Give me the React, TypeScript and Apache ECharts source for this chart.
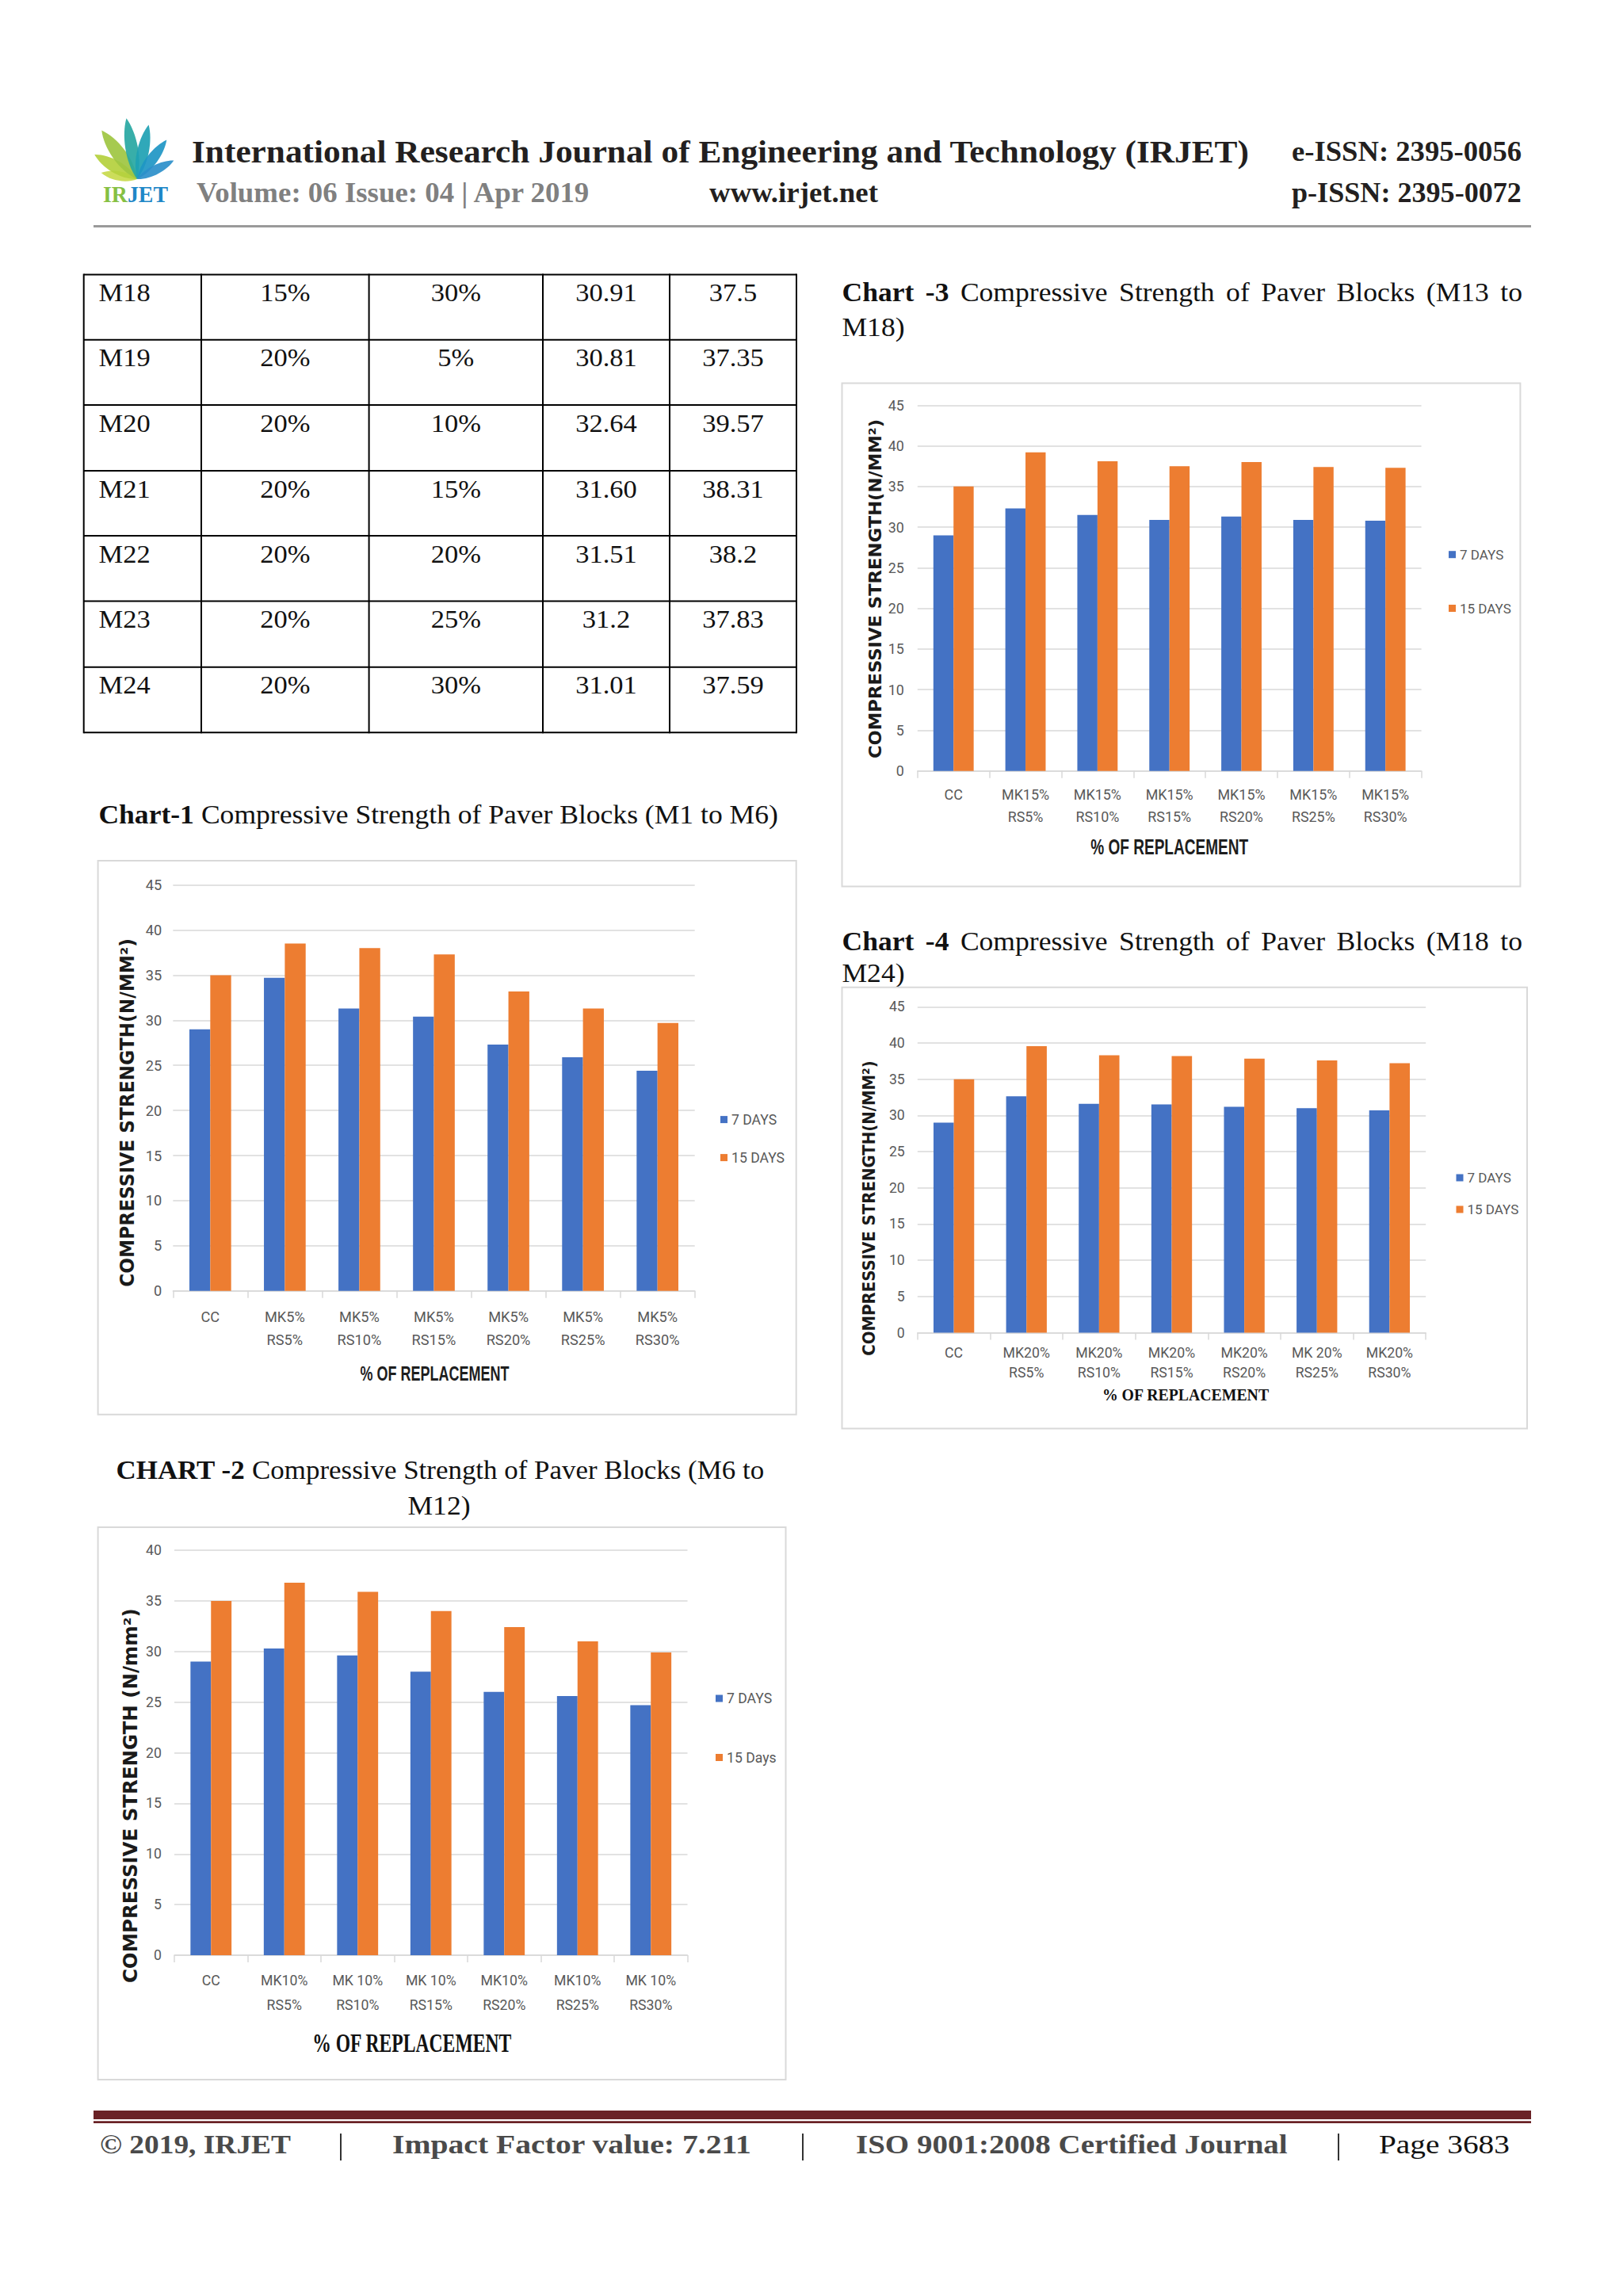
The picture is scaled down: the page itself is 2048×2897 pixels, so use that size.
import React, { useEffect, useRef } from "react";
import * as echarts from "echarts";

// ---------------- DATA ----------------
const chart1Categories = ["CC", "MK5%\nRS5%", "MK5%\nRS10%", "MK5%\nRS15%", "MK5%\nRS20%", "MK5%\nRS25%", "MK5%\nRS30%"];
const chart1Days7 = [29.0, 34.7, 31.3, 30.4, 27.3, 25.9, 24.4];
const chart1Days15 = [35.0, 38.5, 38.0, 37.3, 33.2, 31.3, 29.7];

const chart2Categories = ["CC", "MK10%\nRS5%", "MK 10%\nRS10%", "MK 10%\nRS15%", "MK10%\nRS20%", "MK10%\nRS25%", "MK 10%\nRS30%"];
const chart2Days7 = [29.0, 30.3, 29.6, 28.0, 26.0, 25.6, 24.7];
const chart2Days15 = [35.0, 36.8, 35.9, 34.0, 32.4, 31.0, 29.9];

const chart3Categories = ["CC", "MK15%\nRS5%", "MK15%\nRS10%", "MK15%\nRS15%", "MK15%\nRS20%", "MK15%\nRS25%", "MK15%\nRS30%"];
const chart3Days7 = [29.0, 32.3, 31.5, 30.9, 31.3, 30.9, 30.8];
const chart3Days15 = [35.0, 39.2, 38.1, 37.5, 38.0, 37.4, 37.3];

const chart4Categories = ["CC", "MK20%\nRS5%", "MK20%\nRS10%", "MK20%\nRS15%", "MK20%\nRS20%", "MK 20%\nRS25%", "MK20%\nRS30%"];
const chart4Days7 = [29.0, 32.64, 31.6, 31.51, 31.2, 31.01, 30.7];
const chart4Days15 = [35.0, 39.57, 38.31, 38.2, 37.83, 37.59, 37.2];

const yAxisMax = [45, 40, 45, 45];
const yAxisStep = 5;

const tableRows = [
  ["M18", "15%", "30%", "30.91", "37.5"],
  ["M19", "20%", "5%", "30.81", "37.35"],
  ["M20", "20%", "10%", "32.64", "39.57"],
  ["M21", "20%", "15%", "31.60", "38.31"],
  ["M22", "20%", "20%", "31.51", "38.2"],
  ["M23", "20%", "25%", "31.2", "37.83"],
  ["M24", "20%", "30%", "31.01", "37.59"],
];

// ---------------- STYLE / LAYOUT ----------------
const BLUE = "#4472C4";
const ORANGE = "#ED7D31";
const GRID = "#d9d9d9";
const LABEL = "#595959";
const SERIF = '"Liberation Serif", "Times New Roman", serif';
const SANS = '"Liberation Sans", Arial, sans-serif';
const GOTHIC = '"DejaVu Sans", sans-serif';

let _ctx: CanvasRenderingContext2D | null = null;
function measure(text: string, font: string): number {
  if (!_ctx) _ctx = document.createElement("canvas").getContext("2d");
  _ctx!.font = font;
  return _ctx!.measureText(text).width;
}
function hasFont(name: string): boolean {
  const s = "MK5% RS10% 7 DAYS abcdefg";
  return Math.abs(measure(s, "20px monospace") - measure(s, `20px "${name}", monospace`)) > 0.5;
}

echarts.graphic.registerShape(
  "leaf",
  echarts.graphic.extendPath("M0,0 C-30,-30 -25,-75 0,-100 C25,-75 30,-30 0,0 Z", {})
);

type Run = { text: string; bold?: boolean };

function textEl(text: string, o: any) {
  const weight = o.weight || "normal";
  const font = `${weight} ${o.size}px ${o.family}`;
  let sx = o.scale ?? 1;
  if (o.width) sx = o.width / measure(text, font);
  return {
    type: "text",
    x: o.x,
    y: o.y,
    scaleX: sx,
    rotation: o.rotation || 0,
    silent: true,
    style: {
      text,
      fontSize: o.size,
      fontFamily: o.family,
      fontWeight: weight,
      fill: o.color || "#000",
      textAlign: o.align || "left",
      textVerticalAlign: "middle",
    },
  };
}

function runsEl(runs: Run[], o: any) {
  const fonts = runs.map((r) => `${r.bold ? "bold" : "normal"} ${o.size}px ${o.family}`);
  const widths = runs.map((r, i) => measure(r.text, fonts[i]));
  const space = measure(" ", `normal ${o.size}px ${o.family}`);
  const natural = widths.reduce((a, b) => a + b, 0) + space * (runs.length - 1);
  let s = o.scale ?? 1;
  if (o.width && !o.justify) s = o.width / natural;
  let gap = space * s;
  if (o.justify) gap = (o.width - widths.reduce((a, b) => a + b, 0) * s) / (runs.length - 1);
  let left = o.align === "center" ? o.x - (natural * s) / 2 : o.x;
  const els: any[] = [];
  runs.forEach((r, i) => {
    els.push({
      type: "text",
      x: left,
      y: o.y,
      scaleX: s,
      silent: true,
      style: {
        text: r.text,
        fontSize: o.size,
        fontFamily: o.family,
        fontWeight: r.bold ? "bold" : "normal",
        fill: o.color || "#000",
        textAlign: "left",
        textVerticalAlign: "middle",
      },
    });
    left += widths[i] * s + gap;
  });
  return { els, scale: s };
}

function buildOption() {
  const narrow = hasFont("Liberation Sans Narrow");
  const labelFamily = narrow ? '"Liberation Sans Narrow"' : "Roboto";
  const boost = narrow ? 1 : 1.08;
  const fit = (sample: string, target: number) =>
    Math.round(((20 * target) / measure(sample, `20px ${labelFamily}`)) * boost * 10) / 10;

  const panels = [
    {
      cats: chart1Categories, d7: chart1Days7, d15: chart1Days15, max: yAxisMax[0],
      n7: "7 DAYS", n15: "15 DAYS",
      left: 218.3, right: 876.7, top: 1116.6, bottom: 1628.7,
      labelSize: fit("MK5%", 47), lineH: 29, xMargin: 18, yMargin: 14,
      legLeft: 909, legTop: 1402.6, legGap: 28, legSize: fit("7 DAYS", 52.8),
    },
    {
      cats: chart2Categories, d7: chart2Days7, d15: chart2Days15, max: yAxisMax[1],
      n7: "7 DAYS", n15: "15 Days",
      left: 220, right: 867.5, top: 1956, bottom: 2467,
      labelSize: fit("MK10%", 55), lineH: 31, xMargin: 16.5, yMargin: 16,
      legLeft: 903, legTop: 2133, legGap: 54.5, legSize: fit("7 DAYS", 52.8),
    },
    {
      cats: chart3Categories, d7: chart3Days7, d15: chart3Days15, max: yAxisMax[2],
      n7: "7 DAYS", n15: "15 DAYS",
      left: 1157.8, right: 1793.6, top: 511.3, bottom: 972.8,
      labelSize: fit("MK15%", 55.6), lineH: 27.5, xMargin: 16, yMargin: 17,
      legLeft: 1828, legTop: 689.7, legGap: 47.8, legSize: fit("7 DAYS", 51),
    },
    {
      cats: chart4Categories, d7: chart4Days7, d15: chart4Days15, max: yAxisMax[3],
      n7: "7 DAYS", n15: "15 DAYS",
      left: 1157.8, right: 1799.2, top: 1270.3, bottom: 1681.5,
      labelSize: fit("MK20%", 55), lineH: 25, xMargin: 13, yMargin: 16,
      legLeft: 1837.5, legTop: 1476, legGap: 20, legSize: fit("7 DAYS", 51),
    },
  ];

  const graphic: any[] = [];

  // ---- logo ----
  const leaves = [
    { a: -80, L: 46, w: 12, c: "#c8da4c" },
    { a: -60, L: 62, w: 16, c: "#b4d03d" },
    { a: -36, L: 76, w: 18, c: "#9ec641" },
    { a: -10, L: 78, w: 16, c: "#27a7a2" },
    { a: 12, L: 70, w: 15, c: "#1ea1b3" },
    { a: 37, L: 62, w: 14, c: "#1e96c4" },
    { a: 63, L: 52, w: 12, c: "#2b8fca" },
  ];
  leaves.forEach((lf) =>
    graphic.push({
      type: "leaf",
      x: 173,
      y: 226,
      rotation: (-lf.a * Math.PI) / 180,
      scaleX: lf.w / 42,
      scaleY: lf.L / 100,
      silent: true,
      style: { fill: lf.c, opacity: 0.92 },
    })
  );
  {
    const f = `bold 29px ${SERIF}`;
    const w1 = measure("IR", f), w2 = measure("JET", f);
    const s = 82 / (w1 + w2);
    graphic.push({ type: "text", x: 130, y: 245, scaleX: s, silent: true, style: { text: "IR", fontSize: 29, fontFamily: SERIF, fontWeight: "bold", fill: "#86c043", textVerticalAlign: "middle" } });
    graphic.push({ type: "text", x: 130 + w1 * s, y: 245, scaleX: s, silent: true, style: { text: "JET", fontSize: 29, fontFamily: SERIF, fontWeight: "bold", fill: "#1f87c7", textVerticalAlign: "middle" } });
  }

  // ---- header ----
  graphic.push(textEl("International Research Journal of Engineering and Technology (IRJET)", { x: 242, y: 190.5, size: 41, family: SERIF, weight: "bold", color: "#231f20", width: 1335 }));
  graphic.push(textEl("e-ISSN: 2395-0056", { x: 1630, y: 191.5, size: 35, family: SERIF, weight: "bold", color: "#231f20", width: 290 }));
  graphic.push(textEl("Volume: 06 Issue: 04 | Apr 2019", { x: 248, y: 243.3, size: 35, family: SERIF, weight: "bold", color: "#808080", width: 498 }));
  graphic.push(textEl("www.irjet.net", { x: 895, y: 243.3, size: 35, family: SERIF, weight: "bold", color: "#231f20", width: 213 }));
  graphic.push(textEl("p-ISSN: 2395-0072", { x: 1630, y: 243.3, size: 35, family: SERIF, weight: "bold", color: "#231f20", width: 290 }));
  graphic.push({ type: "rect", silent: true, shape: { x: 118, y: 284, width: 1814, height: 3 }, style: { fill: "#9a9a9a" } });

  // ---- chart-1 title (sets serif scale) ----
  const t1 = runsEl(
    [{ text: "Chart-1", bold: true }, { text: "Compressive Strength of Paver Blocks (M1 to M6)" }],
    { x: 124.4, y: 1027.5, size: 33, family: SERIF, color: "#111", width: 858 }
  );
  graphic.push(...t1.els);
  const serifScale = t1.scale;

  // ---- table ----
  const colX = [105.7, 254, 465.6, 685, 845, 1005];
  const rowY = [346.5, 428.7, 511, 594, 676, 758.6, 841.7, 924.3];
  colX.forEach((x) =>
    graphic.push({ type: "line", silent: true, shape: { x1: x, y1: rowY[0] - 1, x2: x, y2: rowY[rowY.length - 1] + 1 }, style: { stroke: "#000", lineWidth: 2 } })
  );
  rowY.forEach((y) =>
    graphic.push({ type: "line", silent: true, shape: { x1: colX[0], y1: y, x2: colX[colX.length - 1], y2: y }, style: { stroke: "#000", lineWidth: 2 } })
  );
  tableRows.forEach((row, r) => {
    const cy = rowY[r] + 22.7;
    row.forEach((cell, c) => {
      if (c === 0) {
        graphic.push(textEl(cell, { x: 124.6, y: cy, size: 32, family: SERIF, color: "#111", scale: serifScale }));
      } else {
        graphic.push(textEl(cell, { x: (colX[c] + colX[c + 1]) / 2, y: cy, size: 32, family: SERIF, color: "#111", scale: serifScale, align: "center" }));
      }
    });
  });

  // ---- other chart titles ----
  graphic.push(
    ...runsEl([{ text: "CHART -2", bold: true }, { text: "Compressive Strength of Paver Blocks (M6 to" }], {
      x: 555.5, y: 1854.7, size: 33, family: SERIF, color: "#111", width: 818, align: "center",
    }).els
  );
  graphic.push(textEl("M12)", { x: 554, y: 1899, size: 33, family: SERIF, color: "#111", scale: serifScale, align: "center" }));

  const justWords = (num: string, range: string): Run[] => [
    { text: "Chart", bold: true }, { text: num, bold: true }, { text: "Compressive" }, { text: "Strength" },
    { text: "of" }, { text: "Paver" }, { text: "Blocks" }, { text: range }, { text: "to" },
  ];
  graphic.push(...runsEl(justWords("-3", "(M13"), { x: 1062.5, y: 368, size: 33, family: SERIF, color: "#111", width: 858.5, justify: true, scale: serifScale }).els);
  graphic.push(textEl("M18)", { x: 1062.5, y: 412, size: 33, family: SERIF, color: "#111", scale: serifScale }));
  graphic.push(...runsEl(justWords("-4", "(M18"), { x: 1062.5, y: 1187, size: 33, family: SERIF, color: "#111", width: 858.5, justify: true, scale: serifScale }).els);
  graphic.push(textEl("M24)", { x: 1062.5, y: 1227, size: 33, family: SERIF, color: "#111", scale: serifScale }));

  // ---- frames ----
  const frames = [
    [123.6, 1086, 1004.7, 1784.7],
    [123.6, 1927, 991.5, 2624],
    [1062.5, 483.6, 1918.4, 1118.4],
    [1062.5, 1245.8, 1927, 1802.5],
  ];
  frames.forEach(([x1, y1, x2, y2]) =>
    graphic.push({ type: "rect", silent: true, shape: { x: x1, y: y1, width: x2 - x1, height: y2 - y1 }, style: { fill: "none", stroke: GRID, lineWidth: 2 } })
  );

  // ---- axis titles ----
  graphic.push(textEl("% OF REPLACEMENT", { x: 548.6, y: 1733.5, size: 25.5, family: SANS, weight: "bold", color: "#1e1e1e", width: 188, align: "center" }));
  graphic.push(textEl("% OF REPLACEMENT", { x: 519.7, y: 2578, size: 33, family: SERIF, weight: "bold", color: "#111", width: 252, align: "center" }));
  graphic.push(textEl("% OF REPLACEMENT", { x: 1475.7, y: 1069, size: 27, family: SANS, weight: "bold", color: "#1e1e1e", width: 199, align: "center" }));
  graphic.push(textEl("% OF REPLACEMENT", { x: 1496, y: 1759.8, size: 21, family: SERIF, weight: "bold", color: "#111", width: 211, align: "center" }));

  const rot = Math.PI / 2;
  graphic.push(textEl("COMPRESSIVE STRENGTH(N/MM²)", { x: 161, y: 1404, size: 24, family: GOTHIC, weight: "bold", color: "#1a1a1a", width: 440, align: "center", rotation: rot }));
  graphic.push(textEl("COMPRESSIVE STRENGTH (N/mm²)", { x: 165, y: 2265.7, size: 24, family: GOTHIC, weight: "bold", color: "#1a1a1a", width: 473, align: "center", rotation: rot }));
  graphic.push(textEl("COMPRESSIVE STRENGTH(N/MM²)", { x: 1104, y: 743, size: 22, family: GOTHIC, weight: "bold", color: "#1a1a1a", width: 428, align: "center", rotation: rot }));
  graphic.push(textEl("COMPRESSIVE STRENGTH(N/MM²)", { x: 1097, y: 1524.5, size: 22, family: GOTHIC, weight: "bold", color: "#1a1a1a", width: 373, align: "center", rotation: rot }));

  // ---- footer ----
  graphic.push({ type: "rect", silent: true, shape: { x: 118, y: 2663, width: 1814, height: 11 }, style: { fill: "#6a2226" } });
  graphic.push({ type: "rect", silent: true, shape: { x: 118, y: 2676.3, width: 1814, height: 2.8 }, style: { fill: "#6a2226" } });
  graphic.push(textEl("© 2019, IRJET", { x: 126, y: 2706, size: 33, family: SERIF, weight: "bold", color: "#4a4a4a", width: 241 }));
  graphic.push(textEl("Impact Factor value: 7.211", { x: 495, y: 2706, size: 33, family: SERIF, weight: "bold", color: "#4a4a4a", width: 454 }));
  graphic.push(textEl("ISO 9001:2008 Certified Journal", { x: 1080, y: 2706, size: 33, family: SERIF, weight: "bold", color: "#4a4a4a", width: 545 }));
  graphic.push(textEl("Page 3683", { x: 1740, y: 2706, size: 33, family: SERIF, color: "#111", width: 165 }));
  [430, 1013, 1689].forEach((x) =>
    graphic.push({ type: "line", silent: true, shape: { x1: x, y1: 2692, x2: x, y2: 2726 }, style: { stroke: "#333", lineWidth: 2 } })
  );

  // ---- charts ----
  const grid = panels.map((p) => ({ left: p.left, top: p.top, width: p.right - p.left, height: p.bottom - p.top, containLabel: false }));
  const xAxis = panels.map((p, i) => ({
    type: "category",
    gridIndex: i,
    data: p.cats,
    axisLine: { lineStyle: { color: GRID, width: 1.5 } },
    axisTick: { show: true, length: 9, lineStyle: { color: GRID, width: 1.5 } },
    axisLabel: { interval: 0, color: LABEL, fontFamily: labelFamily, fontSize: p.labelSize, lineHeight: p.lineH, margin: p.xMargin },
    splitLine: { show: false },
  }));
  const yAxis = panels.map((p, i) => ({
    type: "value",
    gridIndex: i,
    min: 0,
    max: p.max,
    interval: yAxisStep,
    axisLine: { show: false },
    axisTick: { show: false },
    splitLine: { lineStyle: { color: GRID, width: 1.5 } },
    axisLabel: { color: LABEL, fontFamily: labelFamily, fontSize: p.labelSize, margin: p.yMargin },
  }));
  const series: any[] = [];
  panels.forEach((p, i) => {
    series.push({ type: "bar", name: p.n7, xAxisIndex: i, yAxisIndex: i, data: p.d7, itemStyle: { color: BLUE }, barGap: "0%", barCategoryGap: "44%" });
    series.push({ type: "bar", name: p.n15, xAxisIndex: i, yAxisIndex: i, data: p.d15, itemStyle: { color: ORANGE }, barGap: "0%", barCategoryGap: "44%" });
  });
  const legend = panels.map((p) => ({
    orient: "vertical",
    left: p.legLeft,
    top: p.legTop,
    padding: 0,
    itemWidth: 9,
    itemHeight: 9,
    itemGap: p.legGap,
    icon: "rect",
    selectedMode: false,
    data: [p.n7, p.n15],
    textStyle: { color: LABEL, fontFamily: labelFamily, fontSize: p.legSize, lineHeight: 20 },
  }));

  return {
    animation: false,
    backgroundColor: "#ffffff",
    grid,
    xAxis,
    yAxis,
    series,
    legend,
    graphic: { elements: graphic },
  };
}

export default function App() {
  const ref = useRef<HTMLDivElement>(null);
  useEffect(() => {
    if (!ref.current) return;
    const chart = echarts.init(ref.current, null, { renderer: "svg", width: 2048, height: 2897 });
    chart.setOption(buildOption() as any);
    return () => chart.dispose();
  }, []);
  return (
    <div
      ref={ref}
      style={{ position: "absolute", left: 0, top: 0, width: 2048, height: 2897, background: "#fff" }}
    />
  );
}
